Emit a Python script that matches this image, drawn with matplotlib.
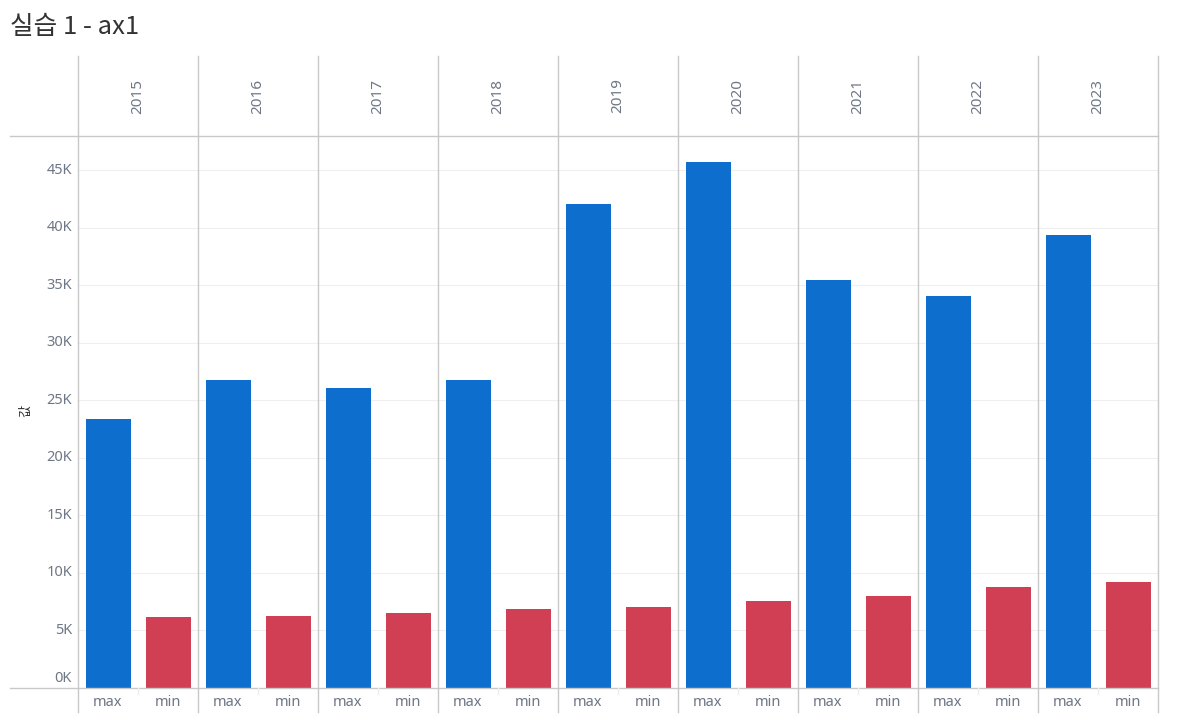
import matplotlib
matplotlib.use("Agg")
import matplotlib.pyplot as plt
from matplotlib.lines import Line2D

years = ["2015", "2016", "2017", "2018", "2019", "2020", "2021", "2022", "2023"]
measures = ["max", "min"]
max_vals = [23400, 26750, 26100, 26750, 42050, 45700, 35450, 34050, 39350]
min_vals = [6170, 6250, 6520, 6860, 7040, 7560, 7990, 8770, 9210]
yticks = [0, 5000, 10000, 15000, 20000, 25000, 30000, 35000, 40000, 45000]
ytick_labels = ["0K", "5K", "10K", "15K", "20K", "25K", "30K", "35K", "40K", "45K"]

BLUE = "#0E6ECD"
RED = "#D13F55"
TXT = "#6E7786"
LINE = "#C8C8C8"
GRID = "#EFEFEF"

W, H = 1187, 716
fig = plt.figure(figsize=(W / 100, H / 100), dpi=100)
plt.rcParams['font.family'] = ['Noto Sans CJK KR', 'DejaVu Sans']
NUMFONT = ['Noto Sans', 'DejaVu Sans']

def fx(px):
    return px / W

def fy(py):
    return 1 - py / H

x0, x1 = 78, 1158
ytop, ybot = 136, 688
ax = fig.add_axes([fx(x0), fy(ybot), fx(x1 - x0), (ybot - ytop) / H])
ymax = (ybot - ytop) / 11.51 * 1000
ax.set_xlim(0, 2 * len(years))
ax.set_ylim(0, ymax)

xs_max = [2 * i + 0.5 for i in range(len(years))]
xs_min = [2 * i + 1.5 for i in range(len(years))]
for y in yticks[1:]:
    ax.axhline(y, color=GRID, lw=0.8, zorder=0)
ax.bar(xs_max, max_vals, width=0.75, color=BLUE, zorder=2)
ax.bar(xs_min, min_vals, width=0.75, color=RED, zorder=2)
for s in ax.spines.values():
    s.set_visible(False)
ax.set_xticks([])
ax.set_yticks([])
ax.patch.set_alpha(0)

# y tick labels (manual to mimic offset of 0K)
for v, lab in zip(yticks, ytick_labels):
    ypx = ybot - v / 1000 * 11.51
    if v == 0:
        ypx = 678
    fig.text(fx(72), fy(ypx), lab, ha="right", va="center", fontsize=10.5,
             color=TXT, family=NUMFONT)

# y axis title
fig.text(fx(26), fy(411), "값", rotation=90, ha="center", va="center",
         fontsize=9.5, color="#333333")

# title
fig.text(fx(10), fy(27), "실습 1 - ax1", ha="left", va="center", fontsize=18.5,
         color="#333333")

# structure lines
lines = []
lines.append(Line2D([fx(10), fx(x1)], [fy(136), fy(136)], color=LINE, lw=1))
lines.append(Line2D([fx(10), fx(x1)], [fy(688), fy(688)], color=LINE, lw=1))
for i in range(len(years) + 1):
    xp = x0 + 120 * i
    lines.append(Line2D([fx(xp), fx(xp)], [fy(56), fy(712)], color=LINE, lw=1))
    if i < len(years):
        xm = xp + 60
        lines.append(Line2D([fx(xm), fx(xm)], [fy(688), fy(694)], color="#EEEEEE", lw=1))
for l in lines:
    fig.add_artist(l)

# header years and bottom labels
for i, yr in enumerate(years):
    xc = x0 + 120 * i + 60
    fig.text(fx(xc), fy(96), yr, rotation=90, ha="center", va="center",
             fontsize=11, color=TXT, family=NUMFONT)
    for j, m in enumerate(measures):
        xb = x0 + 120 * i + 30 + 60 * j
        fig.text(fx(xb), fy(702), m, ha="center", va="center", fontsize=10.5,
                 color=TXT, family=NUMFONT)

fig.savefig("out.png", dpi=100)
